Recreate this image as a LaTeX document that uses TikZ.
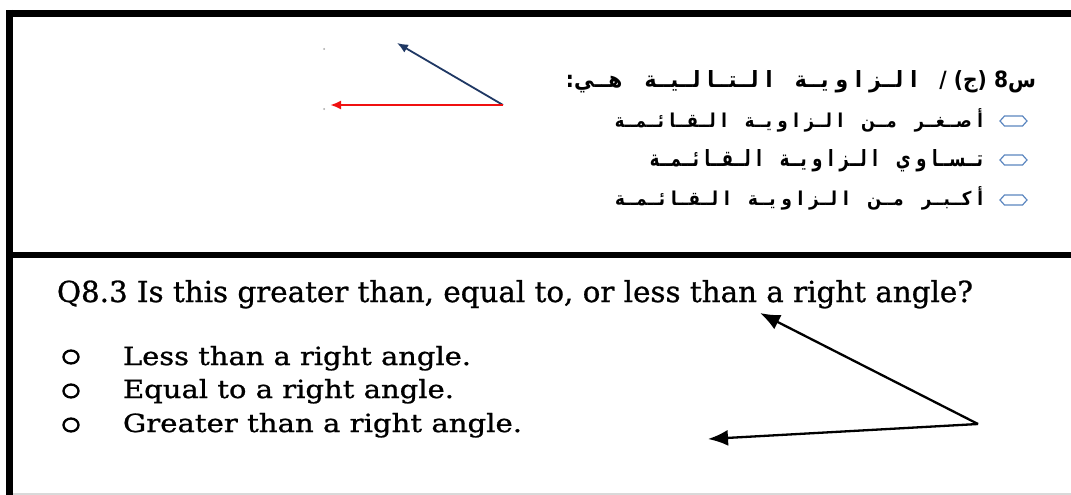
\documentclass[tikz,border=0pt]{standalone}
\usepackage{fontspec}
\setmainfont{DejaVu Serif}
\newfontfamily\enfont[FakeBold=0.9]{DejaVu Serif}
\newfontfamily\arabicfont[Script=Arabic]{DejaVu Sans}
\TeXXeTstate=1
\usetikzlibrary{arrows.meta,calc,shapes.geometric}
\definecolor{navy}{HTML}{1F3864}
\definecolor{bulblue}{HTML}{5B86C0}
\definecolor{arred}{HTML}{F01010}
\tikzset{
  frame/.style={line width=7pt, black},
  artext/.style={anchor=base east, inner sep=0pt, outer sep=0pt},
  entext/.style={anchor=base west, inner sep=0pt, outer sep=0pt},
  hexbullet/.style={draw=bulblue, line width=1.2pt},
  ringbullet/.style={ellipse, draw=black, line width=2.3pt, minimum width=15pt, minimum height=13pt, inner sep=0pt},
  speck/.style={circle, fill=gray!70, minimum size=2pt, inner sep=0pt},
  navyarrow/.style={draw=navy, line width=1.8pt, -{Latex[length=11pt,width=9pt]}},
  redarrow/.style={draw=arred, line width=2.2pt, -{Latex[length=11pt,width=9pt]}},
  blackarrow/.style={draw=black, line width=2.3pt, -{Latex[length=20pt,width=16pt]}}
}
\newcommand{\gp}{\hspace{0.35em}}
\newcommand{\wsp}{\hspace{1.1em}}
\newcommand{\artxt}[3]{\resizebox{#1pt}{#2pt}{\arabicfont\bfseries\beginR #3\endR}}
\newcommand{\entxt}[3]{\resizebox{#1pt}{#2pt}{\enfont #3}}
\newcommand{\hexat}[1]{\draw[hexbullet] ($(#1)+(-13.5,0)$) -- ++(4.5,-5) -- ++(18,0) -- ++(4.5,5) -- ++(-4.5,5) -- ++(-18,0) -- cycle;}
\begin{document}
\begin{tikzpicture}[x=1pt,y=-1pt]
\useasboundingbox (0,0) rectangle (1071,495);
\fill[white] (0,0) rectangle (1071,495);
% frame
\draw[frame] (6,13.5) -- (1071,13.5);
\draw[frame] (9.5,10) -- (9.5,495);
\draw[black, line width=6pt] (6,255) -- (1071,255);
\draw[gray!30, line width=1.5pt] (13,494) -- (1071,494);

% top angle
\coordinate (tv) at (503,105);
\coordinate (tn) at (397,43);
\coordinate (tr) at (330,105);
\draw[navyarrow] (tv) -- (tn);
\draw[redarrow] (tv) -- (tr);
\node[speck] (s1) at (324,49) {};
\node[speck] (s2) at (324,109) {};

% arabic text
\node[artext] (a1) at (1036,88) {\artxt{470}{17}{س8\gp(ج)\gp/\wsp ا\gp لــز\gp ا\gp و\gp يــة\wsp ا\gp لــتــا\gp لــيــة\wsp هــي:}};
\node[artext] (a2) at (983,127) {\artxt{368}{19}{أ\gp صــغــر\wsp مــن\wsp ا\gp لــز\gp ا\gp و\gp يــة\wsp ا\gp لــقــا\gp ئــمــة}};
\node[artext] (a3) at (983,166) {\artxt{333}{17}{تــســا\gp و\gp ي\wsp ا\gp لــز\gp ا\gp و\gp يــة\wsp ا\gp لــقــا\gp ئــمــة}};
\node[artext] (a4) at (983,205) {\artxt{368}{19}{أ\gp كــبــر\wsp مــن\wsp ا\gp لــز\gp ا\gp و\gp يــة\wsp ا\gp لــقــا\gp ئــمــة}};
\coordinate (h2) at (1013.5,121);
\coordinate (h3) at (1013.5,160);
\coordinate (h4) at (1013.5,200);
\hexat{h2}
\hexat{h3}
\hexat{h4}

% english text
\node[entext] (q) at (57,302) {\entxt{916}{22}{Q8.3 Is this greater than, equal to, or less than a right angle?}};
\node[ringbullet] (b1) at (71,357) {};
\node[ringbullet] (b2) at (71,391) {};
\node[ringbullet] (b3) at (71,425) {};
\node[entext] (o1) at (123,365) {\entxt{348}{19}{Less than a right angle.}};
\node[entext] (o2) at (123,398) {\entxt{331}{19}{Equal to a right angle.}};
\node[entext] (o3) at (123,432) {\entxt{399}{19}{Greater than a right angle.}};

% bottom angle
\coordinate (bv) at (978,424);
\coordinate (bu) at (760,313);
\coordinate (bl) at (708,439);
\draw[blackarrow] (bv) -- (bu);
\draw[blackarrow] (bv) -- (bl);
\end{tikzpicture}
\end{document}
